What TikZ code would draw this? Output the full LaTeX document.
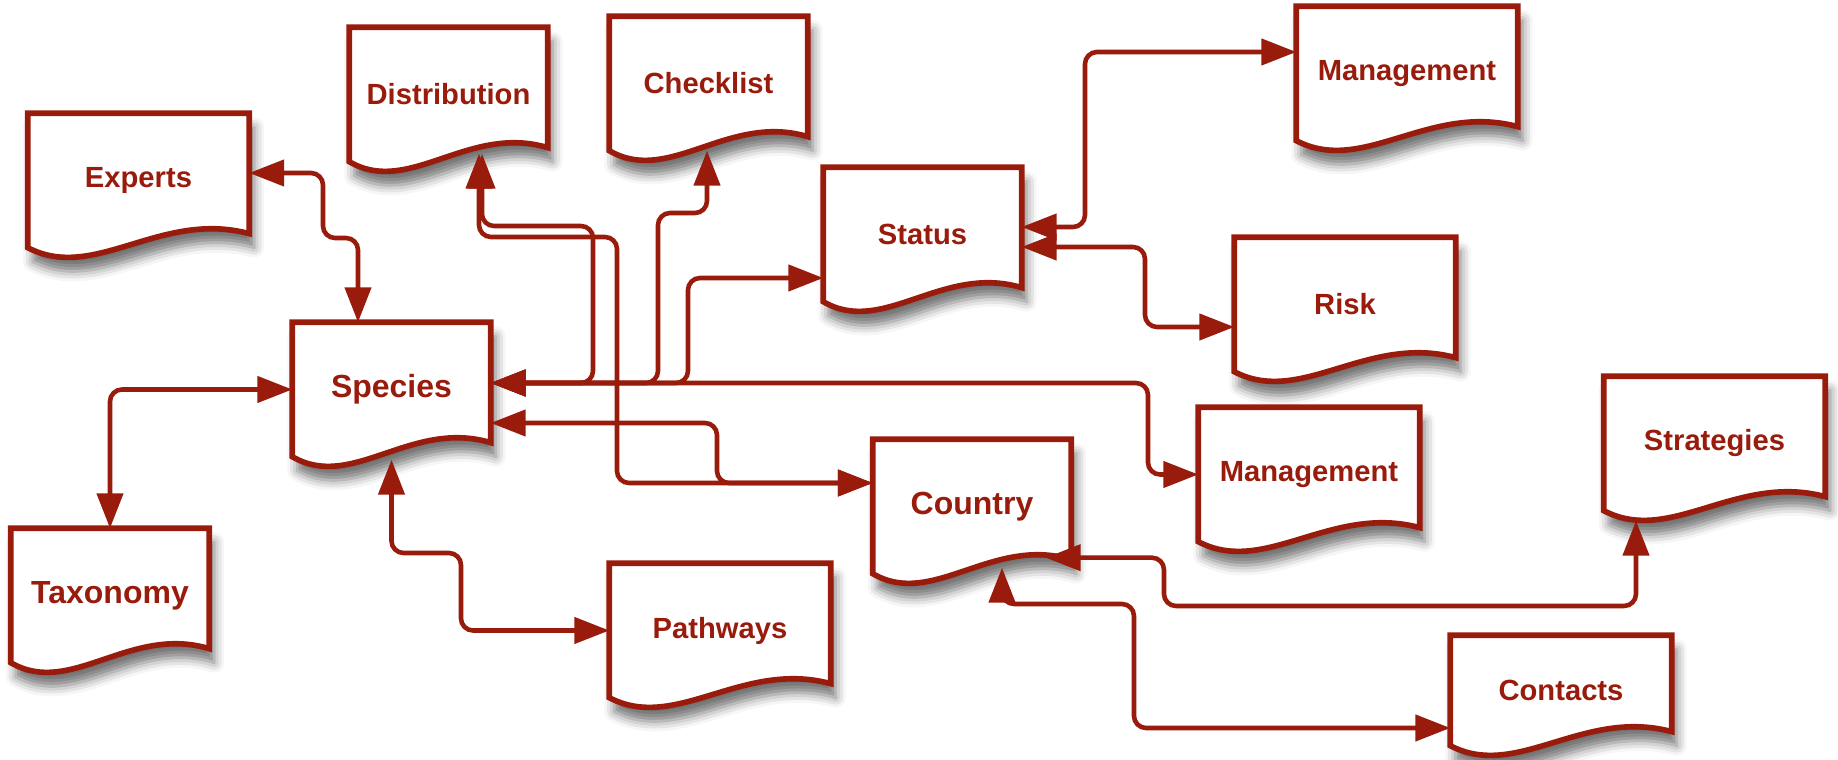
\documentclass[tikz,border=0pt]{standalone}
\usepackage{fontspec}
\setmainfont{Liberation Sans}
\usepackage{tikz}
\usetikzlibrary{arrows.meta,calc,backgrounds,shadows.blur}

\definecolor{docred}{RGB}{153,27,12}

\begin{document}
\begin{tikzpicture}[
    doc/.style={minimum width=1.97cm, minimum height=1.33cm, inner sep=0pt,
      text=docred, font=\bfseries\fontsize{8.3}{10}\selectfont},
    bigdoc/.style={doc, font=\bfseries\fontsize{9.1}{11}\selectfont},
    widedoc/.style={doc, minimum width=2.2cm},
    shortdoc/.style={widedoc, minimum height=1.09cm},
    docshape/.style={draw=docred, line width=1.6pt, fill=white,
      blur shadow={shadow xshift=0.5mm, shadow yshift=-1.4mm,
        shadow blur radius=1mm, shadow opacity=55}},
    link/.style={draw=docred, line width=1.3pt, rounded corners=1.2mm, <->},
    >={Triangle[length=3.5mm,width=2.6mm]}]
  \useasboundingbox (0,0) rectangle (18.38,-7.60);

  % documents
  \node[widedoc] (experts) at (1.385,-1.805) {Experts};
  \node[doc] (distribution) at (4.485,-0.945) {Distribution};
  \node[doc] (checklist) at (7.085,-0.835) {Checklist};
  \node[widedoc] (mgmttop) at (14.07,-0.735) {Management};
  \node[doc] (status) at (9.225,-2.345) {Status};
  \node[widedoc] (risk) at (13.45,-3.045) {Risk};
  \node[bigdoc] (species) at (3.915,-3.895) {Species};
  \node[widedoc] (mgmtmid) at (13.09,-4.745) {Management};
  \node[widedoc] (strategies) at (17.145,-4.435) {Strategies};
  \node[bigdoc] (country) at (9.72,-5.065) {Country};
  \node[bigdoc] (taxonomy) at (1.10,-5.955) {Taxonomy};
  \node[widedoc] (pathways) at (7.20,-6.305) {Pathways};
  \node[shortdoc] (contacts) at (15.61,-6.905) {Contacts};

  \begin{scope}[on background layer]
    \foreach \n in {experts,distribution,checklist,mgmttop,status,risk,species,
        mgmtmid,strategies,country,taxonomy,pathways,contacts}
      \path[docshape] (\n.north west) -- (\n.north east) -- ([yshift=1.4mm]\n.south east)
        .. controls ($(\n.south west)!0.6!(\n.south east)+(0,0.38)$)
        and ($(\n.south west)!0.3!(\n.south east)+(0,-0.35)$) .. (\n.south west) -- cycle;
  \end{scope}

  % species links
  \draw[link] ([yshift=0.75mm]experts.east) -| (3.23,-2.38) -| ([xshift=-3.35mm]species.north);
  \draw[link] (taxonomy.north) |- (species.west);
  \draw[link] ([yshift=-0.3mm]species.south) |- (4.61,-5.53) |- (pathways.west);
  \draw[link] ([yshift=0.65mm]species.east) -- (11.48,-3.83) |- (mgmtmid.west);
  \draw[link] ([yshift=0.65mm]species.east) -| (6.88,-2.78) -- ([yshift=-4.35mm]status.west);
  \draw[link] ([yshift=0.65mm]species.east) -| (6.58,-2.13) -| ([xshift=-0.15mm]checklist.south);
  \draw[link] ([yshift=0.65mm]species.east) -| (5.93,-2.26) -| ([xshift=3.35mm,yshift=0.8mm]distribution.south);
  \draw[link] ([yshift=-3.35mm]species.east) -| (7.17,-4.83) -- ([yshift=2.35mm]country.west);

  % distribution to country
  \draw[link] ([xshift=3.05mm,yshift=0.8mm]distribution.south) |- (6.17,-2.37) |- ([yshift=2.35mm]country.west);

  % status links
  \draw[link] ([yshift=0.75mm]status.east) -| (10.85,-0.52) -- ([yshift=2.15mm]mgmttop.west);
  \draw[link] ([yshift=-1.25mm]status.east) -| (11.45,-3.27) -- ([yshift=-2.25mm]risk.west);

  % country links
  \draw[link] ([xshift=-2.55mm,yshift=1.6mm]country.south east) -| (11.64,-6.06) -| ([xshift=-7.85mm,yshift=-1mm]strategies.south);
  \draw[link] ([xshift=3mm,yshift=0.6mm]country.south) |- (11.34,-6.04) |- ([yshift=-3.75mm]contacts.west);
\end{tikzpicture}
\end{document}
